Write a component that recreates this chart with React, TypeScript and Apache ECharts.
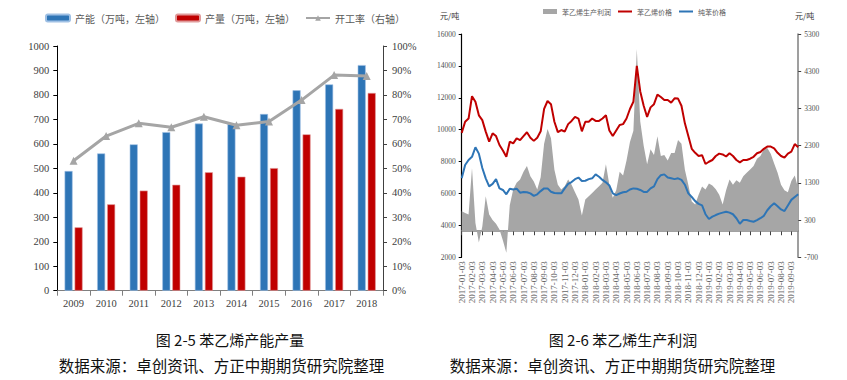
import React, { useEffect, useRef } from 'react';
import * as echarts from 'echarts';

// ---------- Left chart: 苯乙烯产能产量 ----------
const years = ['2009', '2010', '2011', '2012', '2013', '2014', '2015', '2016', '2017', '2018'];
const capacity = [489, 561, 598, 648, 683, 681, 722, 819, 843, 922];
const output = [259, 353, 409, 433, 484, 466, 501, 639, 743, 808];
const utilization = [0.531, 0.632, 0.684, 0.668, 0.711, 0.676, 0.691, 0.779, 0.881, 0.877];

// ---------- Right chart: 苯乙烯生产利润 ----------
const dateLabels: string[] = [];
for (let y = 2017; y <= 2019; y++) {
  for (let m = 1; m <= 12; m++) {
    for (const d of ['03', '13', '23']) {
      dateLabels.push(`${y}-${m < 10 ? '0' + m : m}-${d}`);
    }
  }
}
const dates = dateLabels.slice(0, 99);

const styrenePrice = [
  9800, 10500, 10700, 12100, 11750, 10900, 10600, 9880, 9250, 9770,
  9600, 9040, 8700, 8300, 9250, 9145, 9460, 9350, 9600, 9840,
  9500, 9300, 9500, 9900, 11300, 11800, 11600, 10500, 9850, 9980,
  9880, 10350, 10550, 10800, 10700, 9900, 10500, 10500, 10700, 10550,
  10550, 10700, 10900, 9950, 9600, 9950, 10300, 10350, 10700, 11300,
  11750, 14000, 12400, 11500, 10800, 11400, 11600, 12200, 12050, 11860,
  11860, 11700, 11970, 11950, 11500, 10400, 9600, 8800, 8550, 8350,
  8400, 7850, 7990, 8100, 8350, 8500, 8450, 8320, 8520, 8350,
  8100, 7950, 8100, 8100, 8180, 8300, 8520, 8600, 8800, 8940,
  8940, 8830, 8550, 8350, 8250, 8500, 8620, 9100, 8900,
];
const benzenePrice = [
  6950, 7790, 8100, 8300, 8900, 8500, 7600, 6950, 6450, 6600,
  6900, 6320, 6220, 5950, 6300, 6250, 6300, 6050, 6100, 6080,
  6010, 5850, 5950, 6150, 6320, 6320, 6110, 6030, 6010, 6010,
  6320, 6600, 6720, 6900, 7000, 6780, 6800, 6900, 6950, 7200,
  7050, 6850, 6700, 6500, 6010, 5900, 6000, 6080, 6110, 6250,
  6320, 6300, 6220, 6100, 6100, 6320, 6450, 6900, 7150, 7200,
  7000, 6950, 6900, 6950, 6850, 6550, 6010, 5780, 5520, 5350,
  5250, 4700, 4400, 4550, 4650, 4740, 4800, 4860, 4800, 4700,
  4450, 4100, 4340, 4340, 4280, 4230, 4330, 4450, 4600, 4950,
  5200, 5390, 5200, 5000, 4900, 5250, 5600, 5780, 5950,
];
const styreneProfit = [
  540, 490, 450, 1700, 220, -300, 130, 940, 450, 300,
  200, 45, -250, -580, 700, 1120, 1300, 1390, 1600, 1750,
  1480, 1340, 1120, 1450, 2350, 2750, 2500, 1650, 1250, 1120,
  1210, 1390, 1250, 1050, 850, 420, 850, 940, 1030, 1120,
  1210, 1300, 1800, 1250, 900, 1100, 1600, 1500, 1900, 2400,
  2700, 4900, 2950, 2300, 1800, 2200, 2050, 2550, 2020, 2050,
  1900, 2100, 2100, 2450, 2350, 1650, 1250, 800, 720, 980,
  1200, 1120, 1280, 1230, 1130, 980, 720, 1100, 1390, 1250,
  1370, 1300, 1480, 1570, 1660, 1750, 1950, 2020, 2200, 2240,
  2080, 1820, 1570, 1250, 1100, 1050, 1350, 1500, 1150,
];
const rightAxisTicks = [-700, 300, 1300, 2300, 3300, 4300, 5300];

const SERIF = 'Liberation Serif';
const CJK = 'Noto Sans CJK SC';

export default function App() {
  const ref = useRef<HTMLDivElement>(null);
  useEffect(() => {
    if (!ref.current) return;
    const chart = echarts.init(ref.current, undefined, { renderer: 'svg' });
    const axisLabelL = { fontFamily: SERIF, fontSize: 10.5, color: '#404040' };
    const axisLabelR = { fontFamily: SERIF, fontSize: 7.5, color: '#505050' };
    const plain = (v: number) => String(v);
    chart.setOption({
      animation: false,
      backgroundColor: '#ffffff',
      textStyle: { fontFamily: SERIF },
      legend: [
        {
          left: 45, top: 13, padding: 0, itemWidth: 24, itemHeight: 7, itemGap: 10,
          textStyle: { fontFamily: CJK, fontSize: 10, color: '#595959' },
          data: ['产能（万吨，左轴）', '产量（万吨，左轴）', '开工率（右轴）'],
        },
        {
          left: 543, top: 8, padding: 0, itemWidth: 14, itemHeight: 5, itemGap: 6,
          textStyle: { fontFamily: CJK, fontSize: 7, color: '#595959' },
          data: [
            { name: '苯乙烯生产利润', icon: 'rect' },
            { name: '苯乙烯价格', itemStyle: { opacity: 0 } },
            { name: '纯苯价格', itemStyle: { opacity: 0 } },
          ],
        },
      ],
      grid: [
        { left: 57.3, top: 46, width: 325.7, height: 244.7 },
        { left: 461.7, top: 34, width: 336.5, height: 223.3 },
      ],
      xAxis: [
        {
          type: 'category', gridIndex: 0, data: years,
          axisLine: { show: true, lineStyle: { color: '#7f7f7f', width: 1 } },
          axisTick: { show: true, length: 5, lineStyle: { color: '#7f7f7f' } },
          axisLabel: { ...axisLabelL, margin: 7 },
        },
        {
          type: 'category', gridIndex: 1, data: dates, boundaryGap: false,
          axisLine: { show: true, lineStyle: { color: '#7f7f7f', width: 1.5 } },
          axisTick: { show: true, interval: 2, length: 4, lineStyle: { color: '#404040' } },
          axisLabel: { fontFamily: SERIF, fontSize: 9, color: '#666', rotate: 90, interval: 2, margin: 4 },
        },
      ],
      yAxis: [
        {
          type: 'value', gridIndex: 0, min: 0, max: 1000, interval: 100,
          axisLine: { show: true, lineStyle: { color: '#000', width: 1 } },
          axisTick: { show: true, length: 4, lineStyle: { color: '#000' } },
          splitLine: { show: false },
          axisLabel: { ...axisLabelL, margin: 8, formatter: plain },
        },
        {
          type: 'value', gridIndex: 0, position: 'right', min: 0, max: 1, interval: 0.1,
          axisLine: { show: true, lineStyle: { color: '#404040', width: 1 } },
          axisTick: { show: true, length: 4, lineStyle: { color: '#404040' } },
          splitLine: { show: false },
          axisLabel: { ...axisLabelL, margin: 9, formatter: (v: number) => Math.round(v * 100) + '%' },
        },
        {
          type: 'value', gridIndex: 1, min: 2000, max: 16000, interval: 2000,
          axisLine: { show: true, lineStyle: { color: '#000', width: 1.2 } },
          axisTick: { show: true, length: 3, lineStyle: { color: '#000' } },
          splitLine: { show: false },
          axisLabel: { ...axisLabelR, margin: 6, formatter: plain },
        },
        {
          type: 'value', gridIndex: 1, position: 'right', min: -700, max: 5300,
          axisLine: { show: true, lineStyle: { color: '#7f7f7f', width: 1.5 } },
          axisTick: { show: true, length: 3, customValues: rightAxisTicks, lineStyle: { color: '#404040' } },
          splitLine: { show: false },
          axisLabel: { ...axisLabelR, margin: 6, customValues: rightAxisTicks, formatter: plain },
        },
      ],
      series: [
        {
          type: 'bar', name: '产能（万吨，左轴）', xAxisIndex: 0, yAxisIndex: 0, data: capacity,
          barWidth: 8, barGap: '25%', itemStyle: { color: '#2E75B6', borderColor: '#9fc0e4', borderWidth: 0.6 },
        },
        {
          type: 'bar', name: '产量（万吨，左轴）', xAxisIndex: 0, yAxisIndex: 0, data: output,
          barWidth: 8, barGap: '25%', itemStyle: { color: '#C00000', borderColor: '#e09a9a', borderWidth: 0.6 },
        },
        {
          type: 'line', name: '开工率（右轴）', xAxisIndex: 0, yAxisIndex: 1, data: utilization,
          symbol: 'triangle', symbolSize: 8,
          lineStyle: { color: '#A5A5A5', width: 3 }, itemStyle: { color: '#A5A5A5' },
        },
        {
          type: 'line', name: '苯乙烯生产利润', xAxisIndex: 1, yAxisIndex: 3, data: styreneProfit,
          symbol: 'none', lineStyle: { width: 0, color: '#A6A6A6' },
          areaStyle: { color: '#A6A6A6', opacity: 1 }, itemStyle: { color: '#A6A6A6' },
        },
        {
          type: 'line', name: '苯乙烯价格', xAxisIndex: 1, yAxisIndex: 2, data: styrenePrice,
          symbol: 'none', lineStyle: { color: '#C00000', width: 2 }, itemStyle: { color: '#C00000' },
        },
        {
          type: 'line', name: '纯苯价格', xAxisIndex: 1, yAxisIndex: 2, data: benzenePrice,
          symbol: 'none', lineStyle: { color: '#2E75B6', width: 2 }, itemStyle: { color: '#2E75B6' },
        },
      ],
      graphic: [
        { type: 'text', x: 440, y: 15, style: { text: '元/吨', fontFamily: CJK, fontSize: 8, fill: '#333', verticalAlign: 'middle' } },
        { type: 'text', x: 795, y: 15, style: { text: '元/吨', fontFamily: CJK, fontSize: 8, fill: '#333', verticalAlign: 'middle' } },
        { type: 'text', x: 230, y: 339, style: { text: '图 2-5 苯乙烯产能产量', fontFamily: CJK, fontSize: 15, fill: '#111', align: 'center', verticalAlign: 'middle' } },
        { type: 'text', x: 221.5, y: 365, style: { text: '数据来源：卓创资讯、方正中期期货研究院整理', fontFamily: CJK, fontSize: 15.5, fill: '#111', align: 'center', verticalAlign: 'middle' } },
        { type: 'text', x: 623, y: 339, style: { text: '图 2-6 苯乙烯生产利润', fontFamily: CJK, fontSize: 15, fill: '#111', align: 'center', verticalAlign: 'middle' } },
        { type: 'text', x: 612.5, y: 365, style: { text: '数据来源：卓创资讯、方正中期期货研究院整理', fontFamily: CJK, fontSize: 15.5, fill: '#111', align: 'center', verticalAlign: 'middle' } },
      ],
    });
    return () => chart.dispose();
  }, []);
  return <div ref={ref} style={{ position: 'fixed', left: 0, top: 0, width: 847, height: 380 }} />;
}
